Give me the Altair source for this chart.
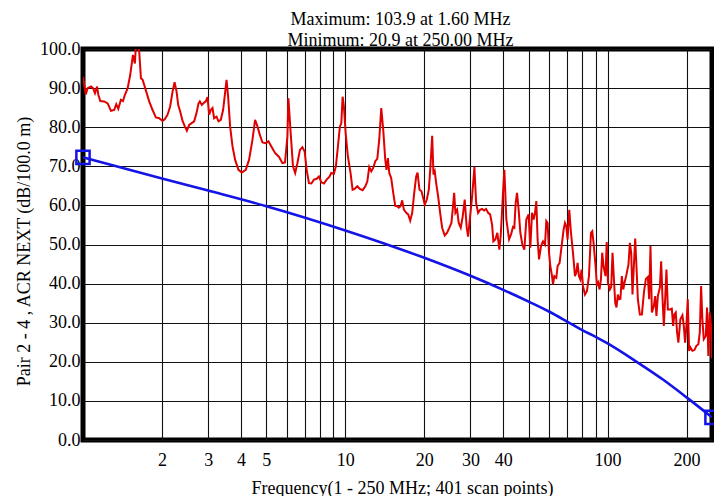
import json
import altair as alt
import pandas as pd

# ---- measured ACR NEXT (red) ----
meas_freq = [1.0, 1.024, 1.042, 1.073, 1.092, 1.111, 1.131, 1.144, 1.164, 1.205, 1.242, 1.278, 1.315, 1.339,
             1.363, 1.395, 1.420, 1.445, 1.480, 1.514, 1.550, 1.577, 1.600, 1.638, 1.663, 1.688, 1.712, 1.742,
             1.788, 1.842, 1.896, 1.952, 2.011, 2.052, 2.101, 2.149, 2.195, 2.234, 2.274, 2.306, 2.347, 2.396,
             2.445, 2.489, 2.539, 2.653, 2.709, 2.757, 2.789, 2.838, 2.896, 2.939, 2.984, 3.026, 3.071, 3.117,
             3.161, 3.228, 3.285, 3.352, 3.420, 3.480, 3.525, 3.574, 3.638, 3.715, 3.800, 3.915, 4.030, 4.174,
             4.297, 4.427, 4.529, 4.625, 4.720, 4.832, 4.974, 5.093, 5.243, 5.397, 5.589, 5.758, 5.890, 6.015,
             6.068, 6.191, 6.317, 6.440, 6.565, 6.716, 6.859, 6.999, 7.123, 7.268, 7.422, 7.593, 7.775, 7.933,
             8.102, 8.288, 8.486, 8.689, 8.843, 9.047, 9.207, 9.372, 9.537, 9.655, 9.766, 9.878, 10.03, 10.23,
             10.47, 10.66, 10.85, 11.11, 11.36, 11.64, 11.92, 12.13, 12.34, 12.56, 12.78, 13.01, 13.24, 13.47,
             13.71, 13.95, 14.20, 14.36, 14.53, 14.71, 14.96, 15.23, 15.50, 15.77, 16.00, 16.24, 16.48, 16.72,
             17.07, 17.37, 17.68, 17.99, 18.31, 18.63, 18.85, 19.18, 19.52, 19.87, 20.09, 20.45, 20.81, 21.07,
             21.44, 21.68, 21.93, 22.20, 22.59, 22.99, 23.40, 23.93, 24.44, 24.94, 25.38, 25.67, 26.00, 26.29,
             26.69, 27.06, 27.54, 28.03, 28.52, 29.03, 29.39, 29.91, 30.44, 31.06, 31.53, 32.08, 32.65, 33.22,
             33.81, 34.41, 35.02, 35.64, 36.27, 36.68, 37.33, 37.99, 38.66, 39.11, 39.59, 40.04, 40.40, 41.11,
             42.10, 42.84, 43.60, 44.10, 44.60, 45.15, 45.79, 46.48, 47.30, 48.14, 48.99, 49.99, 50.74, 51.50,
             52.23, 52.88, 53.48, 54.09, 54.76, 55.73, 56.71, 57.72, 58.38, 59.05, 59.78, 60.47, 61.38, 61.92,
             62.63, 63.74, 64.47, 65.61, 66.77, 67.95, 68.79, 69.57, 70.37, 71.42, 72.50, 73.78, 75.09, 75.95,
             76.82, 77.77, 78.66, 79.56, 80.54, 81.97, 83.42, 84.89, 86.40, 87.39, 88.39, 89.95, 91.06, 92.10,
             93.16, 94.29, 95.38, 96.47, 98.17, 99.21, 100.3, 102.0, 103.2, 104.4, 105.7, 106.9, 108.1, 109.4,
             110.7, 111.9, 113.3, 114.7, 116.0, 118.0, 120.1, 121.6, 123.0, 124.4, 125.9, 127.4, 128.8, 130.4,
             132.7, 135.1, 137.5, 139.9, 142.4, 144.0, 145.7, 147.5, 150.1, 151.8, 153.5, 155.4, 158.2, 160.0,
             161.8, 163.8, 165.7, 167.6, 169.7, 172.6, 175.7, 177.7, 179.7, 181.9, 184.0, 186.1, 189.4, 192.8,
             195.2, 197.4, 199.7, 202.1, 204.5, 206.8, 210.5, 214.2, 218.0, 221.8, 224.6, 227.2, 229.7, 232.6,
             236.7, 239.4, 242.1, 245.1, 247.9, 250.0]
meas_value = [92.9, 88.4, 90.0, 90.4, 90.0, 88.7, 90.4, 88.3, 86.7, 86.6, 86.1, 84.2, 84.4, 85.9,
              84.7, 87.0, 86.7, 88.3, 90.0, 93.4, 98.5, 96.3, 103.9, 99.3, 92.5, 92.1, 90.8, 89.1,
              86.6, 84.4, 82.5, 82.3, 81.6, 82.1, 83.2, 85.3, 89.1, 91.5, 89.1, 85.7, 84.0, 81.6,
              80.2, 79.1, 80.6, 81.5, 83.6, 86.1, 86.6, 85.7, 86.3, 86.6, 87.7, 83.2, 84.4, 84.9,
              82.3, 82.7, 81.5, 81.9, 84.4, 88.7, 92.1, 87.9, 80.2, 75.1, 71.7, 69.1, 68.4, 69.1,
              71.7, 76.8, 81.9, 80.2, 78.1, 76.1, 75.9, 76.4, 74.9, 73.4, 72.4, 70.8, 71.0, 77.6,
              87.4, 78.5, 70.0, 68.3, 70.8, 74.2, 74.9, 73.8, 69.1, 65.7, 65.6, 66.6, 66.8, 67.4,
              65.9, 65.6, 66.6, 67.3, 68.3, 68.1, 70.0, 75.1, 80.2, 81.0, 87.8, 85.3, 78.5, 72.5,
              68.3, 64.0, 64.2, 64.9, 64.2, 63.9, 64.9, 66.1, 69.8, 68.7, 69.6, 71.3, 71.9, 76.8,
              84.9, 79.3, 71.7, 69.1, 72.1, 68.3, 67.0, 63.2, 59.9, 59.8, 59.4, 59.8, 61.3, 58.9,
              58.1, 57.7, 56.1, 58.1, 63.2, 67.4, 68.4, 64.0, 63.6, 61.5, 60.2, 61.5, 64.0, 69.1,
              77.8, 67.9, 68.7, 65.7, 62.3, 58.1, 54.3, 52.3, 53.0, 54.3, 55.5, 58.9, 63.2, 58.1,
              58.9, 55.5, 54.3, 57.2, 61.5, 54.3, 52.0, 57.2, 62.3, 69.8, 60.6, 58.1, 58.9, 59.1,
              58.7, 59.1, 58.1, 57.7, 55.1, 50.8, 51.3, 53.0, 48.7, 52.1, 58.5, 64.9, 69.1, 56.4,
              51.3, 52.6, 54.5, 54.3, 60.6, 63.2, 58.9, 53.0, 50.0, 48.7, 56.4, 57.7, 49.2, 58.1,
              56.4, 58.1, 61.1, 51.3, 46.2, 49.6, 50.8, 50.0, 56.0, 55.5, 47.9, 44.5, 41.9, 39.8,
              41.9, 41.5, 44.5, 45.3, 49.6, 53.8, 55.5, 54.7, 51.3, 58.9, 53.0, 47.9, 41.9, 42.8,
              45.3, 41.9, 41.1, 43.6, 39.4, 37.2, 38.1, 41.9, 53.0, 53.4, 50.4, 44.5, 39.4, 40.2,
              38.5, 41.1, 47.9, 44.5, 41.9, 50.6, 40.2, 38.5, 39.2, 47.9, 41.1, 35.1, 33.9, 37.2,
              36.0, 36.1, 41.9, 38.5, 40.2, 42.3, 44.9, 50.4, 47.9, 37.2, 44.5, 51.5, 44.5, 36.0,
              32.1, 32.1, 37.7, 41.2, 41.7, 36.0, 49.6, 32.6, 34.3, 36.8, 31.7, 36.8, 39.0, 45.7,
              36.8, 29.2, 36.0, 43.6, 33.4, 33.4, 33.6, 29.2, 32.1, 32.6, 27.5, 24.9, 30.9, 31.9,
              29.2, 24.9, 29.2, 36.0, 22.8, 23.7, 22.8, 23.0, 24.1, 24.5, 27.5, 39.4, 30.9, 25.8,
              26.6, 33.9, 21.5, 32.6, 29.2, 20.9]

# ---- limit line (blue) ----
limit_freq = [1, 2, 3, 5, 10, 20, 30, 40, 50, 60, 70, 80, 90, 100, 129, 163, 200, 250]
limit_value = [72.3, 66.9, 63.8, 59.8, 53.6, 46.6, 42.0, 38.4, 35.4, 32.8, 30.3, 28.1, 26.4, 24.7,
               20.0, 15.4, 10.9, 5.8]
marker_freq = [1, 250]
marker_value = [72.3, 5.8]

# ---- axes ----
grid_ticks = [2, 3, 4, 5, 6, 7, 8, 9, 10, 20, 30, 40, 50, 60, 70, 80, 90, 100, 200]
label_ticks = [2, 3, 4, 5, 10, 20, 30, 40, 100, 200]
y_ticks = [0, 10, 20, 30, 40, 50, 60, 70, 80, 90, 100]

title_lines = ["Maximum: 103.9 at 1.60 MHz", "Minimum: 20.9 at 250.00 MHz"]
x_title = "Frequency(1 - 250 MHz; 401 scan points)"
y_title = "Pair 2 - 4 , ACR NEXT (dB/100.0 m)"

FONT = "Liberation Serif"

meas_df = pd.DataFrame({"freq": meas_freq, "value": meas_value})
limit_df = pd.DataFrame({"freq": limit_freq, "value": limit_value})
marker_df = pd.DataFrame({"freq": marker_freq, "value": marker_value})

x_scale = alt.Scale(type="log", domain=[1, 250], nice=False)
y_scale = alt.Scale(domain=[0, 100], nice=False, zero=True)

label_expr = "indexof(" + json.dumps(label_ticks) + ", datum.value) >= 0 ? datum.label : ''"

x_axis = alt.Axis(
    values=grid_ticks, labelExpr=label_expr, format="d", title=x_title,
    grid=True, gridColor="#111", gridWidth=1.1, domain=False, ticks=False, tickSize=0,
    labelFont=FONT, labelFontSize=18, labelColor="black", labelPadding=11,
    labelOverlap=False, labelFlush=False, labelBaseline="top",
    titleFont=FONT, titleFontSize=18, titleFontWeight="normal", titleColor="black",
    titleX=319, titleY=53, titleBaseline="alphabetic", titleAnchor="middle",
)
y_axis = alt.Axis(
    values=y_ticks, format=".1f", title=y_title,
    grid=True, gridColor="#111", gridWidth=1.1, domain=False, ticks=False, tickSize=0,
    labelFont=FONT, labelFontSize=18, labelColor="black", labelPadding=3,
    labelOverlap=False, labelFlush=False, labelBound=False,
    titleFont=FONT, titleFontSize=18, titleFontWeight="normal", titleColor="black",
    titleX=-54, titleY=202, titleBaseline="alphabetic", titleAngle=270, titleAnchor="middle",
)

X = alt.X("freq:Q", scale=x_scale, axis=x_axis)
Y = alt.Y("value:Q", scale=y_scale, axis=y_axis)

limit_line = alt.Chart(limit_df).mark_line(
    color="#1414e6", strokeWidth=2.6, interpolate="monotone", clip=True
).encode(x=X, y=Y)

meas_line = alt.Chart(meas_df).mark_line(
    color="#e00000", strokeWidth=2.0, clip=True
).encode(x=X, y=Y)

markers = alt.Chart(marker_df).mark_point(
    shape="square", size=175, filled=False, color="#1414e6", strokeWidth=2.5, opacity=1
).encode(x=X, y=Y)

chart = alt.layer(limit_line, meas_line, markers).properties(
    width=629, height=391,
    background="white",
    title=alt.TitleParams(
        text=title_lines, font=FONT, fontSize=18, fontWeight="normal", color="black",
        lineHeight=21, anchor="middle", baseline="bottom", offset=0, dx=3, dy=28,
    ),
    autosize=alt.AutoSizeParams(type="none"),
    padding={"left": 75, "top": 41, "right": 2, "bottom": 56},
).configure_view(
    stroke="black", strokeWidth=5
).configure_axis(
    labelOverlap=False
)

chart.save("out.html", embed_options={"renderer": "svg", "actions": False})
